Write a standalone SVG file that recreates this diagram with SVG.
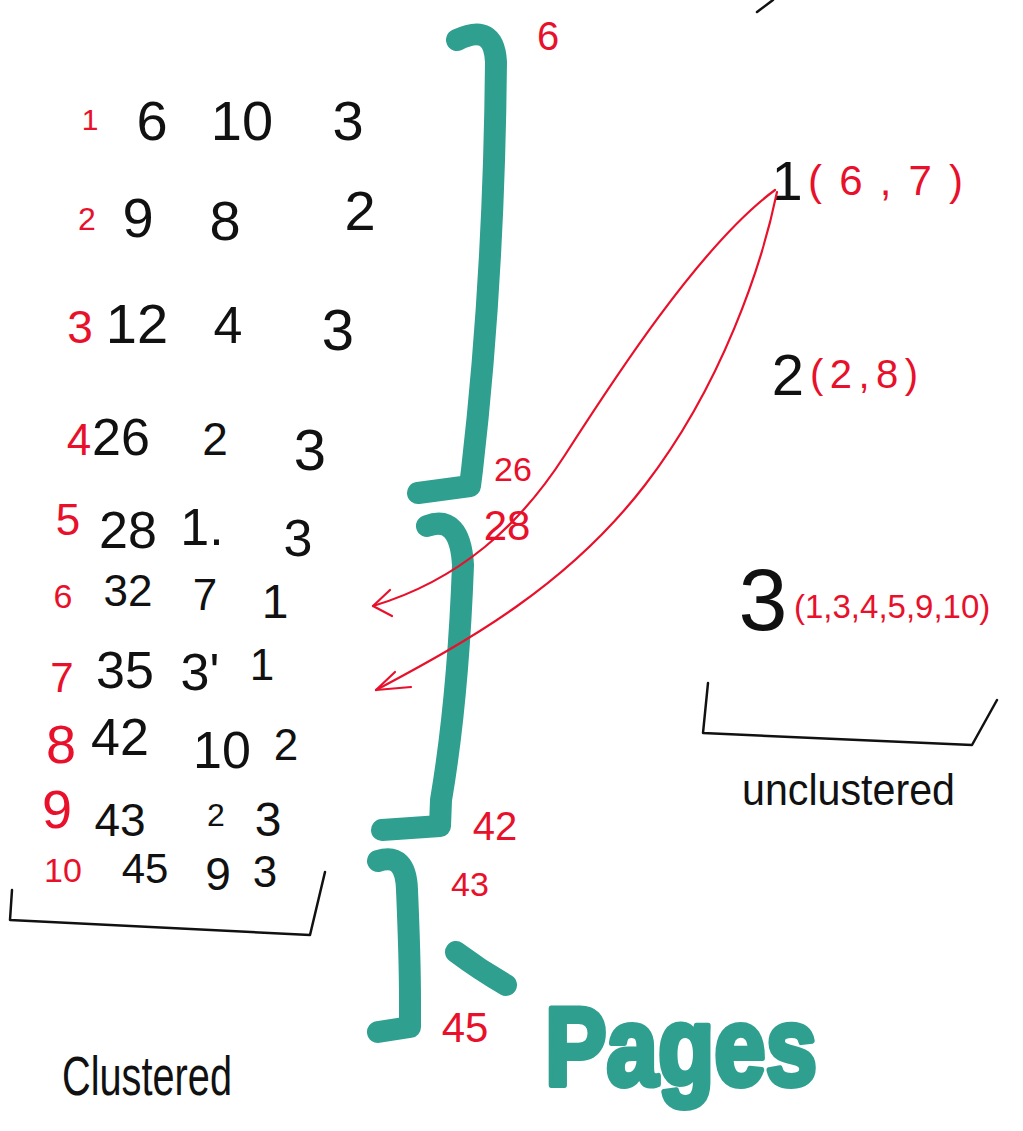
<svg xmlns="http://www.w3.org/2000/svg" width="1023" height="1131" viewBox="0 0 1023 1131">
<style>
  text { font-family: "Liberation Sans", Arial, sans-serif; }
  .blk { fill: #111; text-anchor: middle; }
  .red { fill: #e8102a; text-anchor: middle; }
  .redl { fill: #e8102a; }
  .ink { fill: none; stroke: #111; stroke-width: 2.5; stroke-linecap: round; stroke-linejoin: round; }
  .teal { fill: none; stroke: #2f9f90; stroke-width: 22; stroke-linecap: round; stroke-linejoin: round; }
  .redline { fill: none; stroke: #e8102a; stroke-width: 2.2; stroke-linecap: round; stroke-linejoin: round; }
</style>
<rect width="1023" height="1131" fill="#fff"/>

<path class="ink" d="M757,12 L773,0"/>

<g id="rows" font-size="52">
  <g id="row1"><text class="red" x="90" y="130" font-size="30">1</text><text class="blk" x="152" y="140" font-size="56">6</text><text class="blk" x="242" y="140" font-size="56">10</text><text class="blk" x="348" y="140" font-size="56">3</text></g>
  <g id="row2"><text class="red" x="87" y="230" font-size="32">2</text><text class="blk" x="138" y="237" font-size="56">9</text><text class="blk" x="225" y="240" font-size="56">8</text><text class="blk" x="360" y="230" font-size="56">2</text></g>
  <g id="row3"><text class="red" x="80" y="343" font-size="46">3</text><text class="blk" x="137" y="343" font-size="56">12</text><text class="blk" x="228" y="343" font-size="52">4</text><text class="blk" x="338" y="350" font-size="58">3</text></g>
  <g id="row4"><text class="red" x="79" y="455" font-size="44">4</text><text class="blk" x="121" y="455">26</text><text class="blk" x="215" y="455" font-size="46">2</text><text class="blk" x="310" y="470" font-size="58">3</text></g>
  <g id="row5"><text class="red" x="68" y="535" font-size="44">5</text><text class="blk" x="128" y="548">28</text><text class="blk" x="202" y="545">1.</text><text class="blk" x="298" y="556">3</text></g>
  <g id="row6"><text class="red" x="63" y="608" font-size="34">6</text><text class="blk" x="128" y="606" font-size="44">32</text><text class="blk" x="205" y="610" font-size="44">7</text><text class="blk" x="275" y="618" font-size="48">1</text></g>
  <g id="row7"><text class="red" x="62" y="692" font-size="42">7</text><text class="blk" x="125" y="688">35</text><text class="blk" x="200" y="690">3'</text><text class="blk" x="262" y="680" font-size="44">1</text></g>
  <g id="row8"><text class="red" x="61" y="763" font-size="54">8</text><text class="blk" x="120" y="755">42</text><text class="blk" x="222" y="768">10</text><text class="blk" x="286" y="760" font-size="44">2</text></g>
  <g id="row9"><text class="red" x="57" y="828" font-size="54">9</text><text class="blk" x="120" y="836" font-size="46">43</text><text class="blk" x="216" y="826" font-size="32">2</text><text class="blk" x="268" y="836" font-size="48">3</text></g>
  <g id="row10"><text class="red" x="63" y="882" font-size="34">10</text><text class="blk" x="145" y="883" font-size="42">45</text><text class="blk" x="218" y="890" font-size="46">9</text><text class="blk" x="265" y="887" font-size="44">3</text></g>
</g>

<g id="clustered">
  <path class="ink" d="M12,890 L10,920 L310,935 L325,872"/>
  <text x="62" y="1095" fill="#111" font-size="56" textLength="170" lengthAdjust="spacingAndGlyphs">Clustered</text>
</g>

<g id="page1">
  <path class="teal" d="M457,40 Q494,22 496,62 Q494,280 472,470 L470,486 L418,493"/>
  <text class="red" x="548" y="50" font-size="40">6</text>
  <text class="red" x="513" y="481" font-size="34">26</text>
</g>
<g id="page2">
  <path class="teal" d="M427,526 Q460,514 463,565 Q458,700 441,800 L440,826 L382,830"/>
  <text class="red" x="507" y="540" font-size="42">28</text>
  <text class="red" x="495" y="840" font-size="40">42</text>
</g>
<g id="page3">
  <path class="teal" d="M378,861 Q406,852 407,890 Q410,960 410,1000 L410,1027 L378,1032"/>
  <text class="red" x="470" y="896" font-size="34">43</text>
  <text class="red" x="465" y="1042" font-size="42">45</text>
</g>

<g id="pages-label">
  <path class="teal" d="M456,952 Q480,970 506,985" stroke-width="20"/>
  <text x="545" y="1085" fill="#2f9f90" stroke="#2f9f90" stroke-width="6" stroke-linejoin="round" font-size="112" font-weight="bold" textLength="272" lengthAdjust="spacingAndGlyphs">Pages</text>
</g>

<g id="unclustered">
  <g id="u1"><text class="blk" x="787" y="200" font-size="56">1</text><text class="redl" x="808" y="195" font-size="42" textLength="155" lengthAdjust="spacing">(6,7)</text></g>
  <g id="u2"><text class="blk" x="788" y="395" font-size="58">2</text><text class="redl" x="810" y="388" font-size="40" textLength="108" lengthAdjust="spacing">(2,8)</text></g>
  <g id="u3"><text class="blk" x="763" y="630" font-size="88">3</text><text class="redl" x="794" y="618" font-size="33">(1,3,4,5,9,10)</text></g>
  <path class="ink" d="M708,683 L703,733 L972,745 L997,700"/>
  <text x="742" y="805" fill="#111" font-size="44" textLength="213" lengthAdjust="spacingAndGlyphs">unclustered</text>
</g>

<g id="connectors">
  <path class="redline" d="M775,190 C700,245 610,385 565,455 S460,580 373,606"/>
  <path class="redline" d="M373,606 L390,590 M373,606 L392,616"/>
  <path class="redline" d="M777,192 C762,265 722,385 645,485 S470,640 376,690"/>
  <path class="redline" d="M376,690 L395,672 M376,690 L411,687"/>
</g>
</svg>
